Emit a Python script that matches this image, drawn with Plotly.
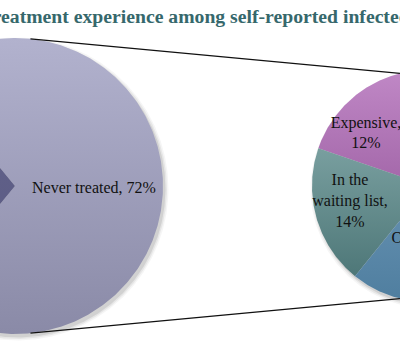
import numpy as np
import plotly.graph_objects as go

# ---------------- data ----------------
title_text = "Treatment experience among self-reported infected patients"
main_labels = ["Never treated", "Treated"]
main_values = [72, 28]
# break-out of "Never treated" (shares of all respondents); last value is the part cut off in the crop
sub_labels = ["Expensive", "In the waiting list", "Other", ""]
sub_values = [12, 14, 12, 34]

# ---------------- layout constants ----------------
W, H = 400, 360
BIG = dict(cx=15, cy=186, r=148)
SMALL = dict(cx=428, cy=186, r=116)
treated_center_angle = 180.0      # treated wedge faces left
sub_start_angle = 101.0           # first sub slice starts here, counter-clockwise

main_colors = [("#b2b2ce", "#8a8aa7"), ("#66668f", "#57577f")]
sub_colors = [("#c088c6", "#86468c"), ("#93b7b7", "#456f70"),
              ("#7ea6c6", "#4f7e9f"), ("#7ea6c6", "#4f7e9f")]
label_font = dict(family="Liberation Serif", size=16, color="#111111")

fig = go.Figure()


def arc_pts(cx, cy, r, a0, a1, center=True):
    n = max(8, int(abs(a1 - a0) * 2))
    t = np.radians(np.linspace(a0, a1, n))
    xs = cx + r * np.cos(t)
    ys = cy - r * np.sin(t)
    if center:
        xs = np.concatenate([[cx], xs, [cx]])
        ys = np.concatenate([[cy], ys, [cy]])
    return xs, ys


def add_shadow(p):
    for dr, a in [(3.5, 0.04), (2, 0.06), (0.5, 0.09)]:
        xs, ys = arc_pts(p["cx"] + 2, p["cy"] + 3, p["r"] + dr, 0, 360, center=False)
        fig.add_trace(go.Scatter(x=xs, y=ys, fill="toself", mode="lines",
                                 line=dict(width=0), fillcolor=f"rgba(0,0,0,{a})",
                                 hoverinfo="skip", showlegend=False))


def add_slice(p, a0, a1, cols, name):
    xs, ys = arc_pts(p["cx"], p["cy"], p["r"], a0, a1)
    fig.add_trace(go.Scatter(
        x=xs, y=ys, fill="toself", mode="lines", line=dict(width=0),
        fillgradient=dict(type="vertical",
                          colorscale=[[0, cols[0]], [1, cols[1]]],
                          start=p["cy"] - p["r"], stop=p["cy"] + p["r"]),
        name=name, showlegend=False, hoverinfo="name"))


add_shadow(BIG)
add_shadow(SMALL)

# big pie
tot = sum(main_values)
treated_span = 360.0 * main_values[1] / tot
t0 = treated_center_angle - treated_span / 2
t1 = treated_center_angle + treated_span / 2
add_slice(BIG, t1, t0 + 360, main_colors[0], main_labels[0])
add_slice(BIG, t0, t1, main_colors[1], main_labels[1])

# sub pie (whole sub pie = "Never treated")
sub_tot = sum(sub_values)
a = sub_start_angle
for lab, v, c in zip(sub_labels, sub_values, sub_colors):
    span = 360.0 * v / sub_tot
    add_slice(SMALL, a, a + span, c, lab)
    a += span

# connector lines (tangent-ish points on the big pie to the small pie)
for sgn in (1, -1):
    xa = BIG["cx"] + BIG["r"] * np.cos(np.radians(84))
    ya = BIG["cy"] - sgn * BIG["r"] * np.sin(np.radians(84))
    xb = SMALL["cx"] + SMALL["r"] * np.cos(np.radians(104))
    yb = SMALL["cy"] - sgn * SMALL["r"] * np.sin(np.radians(104))
    fig.add_trace(go.Scatter(x=[xa, xb], y=[ya, yb], mode="lines",
                             line=dict(color="#111111", width=1.2),
                             hoverinfo="skip", showlegend=False))

# data labels
main_label_pos = (94, 187)
fig.add_annotation(x=main_label_pos[0], y=main_label_pos[1], xref="x", yref="y",
                   text=f"{main_labels[0]}, {main_values[0]}%", showarrow=False,
                   font=label_font)
sub_label_text = [f"{sub_labels[0]},<br>{sub_values[0]}%",
                  f"In the<br>waiting list,<br>{sub_values[1]}%",
                  f"{sub_labels[2]}, {sub_values[2]}%"]
sub_label_pos = [(366, 134), (350, 202), (428, 239)]
for txt, (lx, ly) in zip(sub_label_text, sub_label_pos):
    fig.add_trace(go.Scatter(x=[lx], y=[ly], mode="text", text=[txt],
                             textfont=label_font, textposition="middle center",
                             cliponaxis=True, hoverinfo="skip", showlegend=False))

# title (cropped at both sides in the reference)
fig.add_annotation(x=-21 / W, y=1 - 16 / H, xref="paper", yref="paper",
                   xanchor="left", yanchor="middle", showarrow=False,
                   text=f"<b>{title_text}</b>",
                   font=dict(family="Liberation Serif", size=19.7, color="#36686c"))

fig.update_xaxes(range=[0, W], visible=False, fixedrange=True)
fig.update_yaxes(range=[H, 0], visible=False, fixedrange=True)
fig.update_layout(width=W, height=H, margin=dict(l=0, r=0, t=0, b=0),
                  paper_bgcolor="white", plot_bgcolor="white", showlegend=False)

fig.write_html("out.html", config={"displayModeBar": False},
               post_script="document.body.style.margin='0';document.body.style.overflow='hidden';")
